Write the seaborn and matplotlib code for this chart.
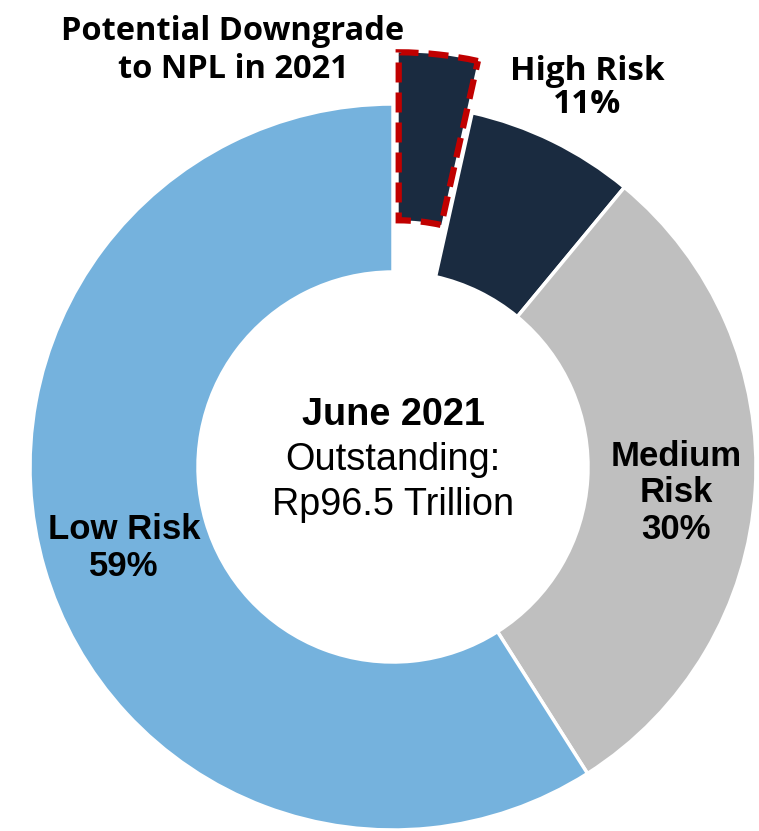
import matplotlib
matplotlib.use("Agg")
import matplotlib.pyplot as plt
import seaborn as sns

# Loan-at-risk composition, June 2021
segments = ["Potential Downgrade", "High Risk (rest)", "Medium Risk", "Low Risk"]
shares = [3.5, 7.5, 30, 59]
colors = ["#1A2B40", "#1A2B40", "#BFBFBF", "#75B2DD"]

label_texts = ["Potential Downgrade\nto NPL in 2021", "High Risk\n11%", "Medium\nRisk\n30%", "Low Risk\n59%"]
center_lines = ["June 2021", "Outstanding:", "Rp96.5 Trillion"]

sns.set_theme(style="white")

W, H = 759, 831
fig = plt.figure(figsize=(W / 100, H / 100), dpi=100)
ax = fig.add_axes([0, 0, 1, 1])
ax.axis("off")

cx, cy, R = 393, H - 467, 363
# explode is in data units here (axes span the figure in pixels)
explode = [52, 0, 0, 0]
wedges, _ = ax.pie(shares, colors=colors, explode=explode, startangle=90,
                   counterclock=False, center=(cx, cy), radius=R,
                   wedgeprops=dict(width=168, edgecolor="white", linewidth=2.5))
ax.set_xlim(0, W)
ax.set_ylim(0, H)
ax.set_aspect("auto")

# dashed red outline on the exploded slice
wedges[0].set_edgecolor("#C00000")
wedges[0].set_linestyle((0, (3.2, 1.6)))
wedges[0].set_linewidth(4.5)
wedges[0].set_zorder(3)

seg_font = ["Open Sans", "DejaVu Sans"]
arial = ["Liberation Sans", "DejaVu Sans"]
ax.text(233, H - 50, label_texts[0], ha="center", va="center", fontsize=23.5,
        fontweight="bold", family=seg_font, linespacing=1.2, color="black")
ax.text(587, H - 88, label_texts[1], ha="center", va="center", fontsize=24,
        fontweight="bold", family=seg_font, linespacing=0.98, color="black")
ax.text(676, H - 493, label_texts[2], ha="center", va="center", fontsize=25,
        fontweight="bold", family=arial, linespacing=1.15, color="black")
ax.text(124, H - 548, label_texts[3], ha="center", va="center", fontsize=25,
        fontweight="bold", family=arial, linespacing=1.15, color="black")

for i, (line, yy) in enumerate(zip(center_lines, [415, 460, 505])):
    ax.text(cx, H - yy, line, ha="center", va="center", fontsize=27.3,
            fontweight="bold" if i == 0 else "normal", family=arial, color="black")

fig.savefig("out.png", dpi=100)
